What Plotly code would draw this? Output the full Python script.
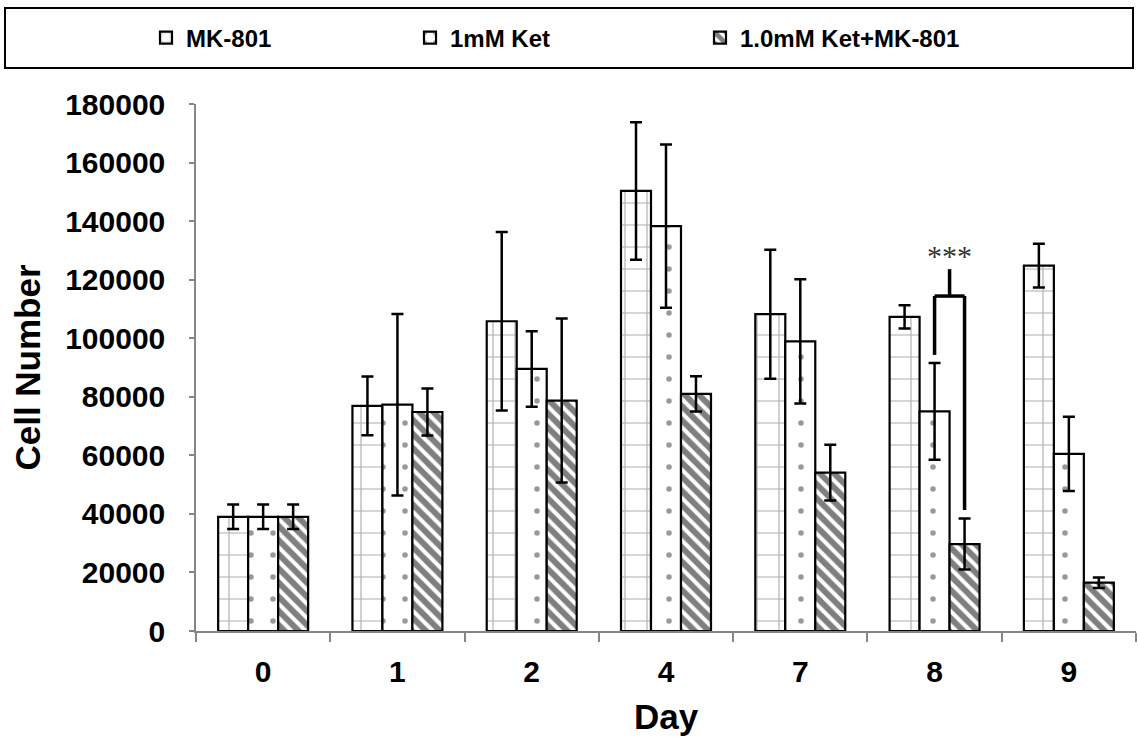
import plotly.graph_objects as go

# ---- data ----
days = ["0", "1", "2", "4", "7", "8", "9"]
mk801 = [39000, 76900, 105800, 150300, 108200, 107300, 124800]
mk801_err = [4200, 10000, 30500, 23500, 22000, 4000, 7500]
ket1mm = [39000, 77300, 89500, 138300, 98900, 75000, 60500]
ket1mm_err = [4200, 31000, 12900, 27900, 21200, 16500, 12700]
combo = [39000, 74800, 78700, 81000, 54100, 29700, 16500]
combo_err = [4200, 8000, 28000, 6000, 9500, 8700, 1800]
series_names = ["MK-801", "1mM Ket", "1.0mM Ket+MK-801"]
y_ticks = [0, 20000, 40000, 60000, 80000, 100000, 120000, 140000, 160000, 180000]

# significance bracket (Day 8: 1mM Ket vs 1.0mM Ket+MK-801)
sig_day_index = 5
sig_stem_top = 123600
sig_bar_level = 114400
sig_left_bottom = 94300
sig_right_bottom = 41300
sig_text_y = 128400

# ---- layout constants ----
W, H = 1138, 737
ML, MR, MT, MB = 196, 2, 104, 106
BARGAP = 0.33
FONT = "Liberation Sans, Arial, sans-serif"
AXIS_GRAY = "#868686"

fig = go.Figure()

patterns = [
    dict(shape="+", size=22, solidity=0.1, fgcolor="#5a5a5a", bgcolor="white"),
    dict(shape=".", size=22, solidity=0.05, fgcolor="#333333", bgcolor="white"),
    dict(shape="\\", size=10, solidity=0.6, fgcolor="black", bgcolor="white"),
]
values = [mk801, ket1mm, combo]
errors = [mk801_err, ket1mm_err, combo_err]
legend_ids = ["legend", "legend2", "legend3"]

for name, vals, errs, pat, lg in zip(series_names, values, errors, patterns, legend_ids):
    fig.add_trace(go.Bar(
        x=days, y=vals, name=name, legend=lg,
        marker=dict(color="white", line=dict(color="black", width=2.2), pattern=pat),
        error_y=dict(type="data", array=errs, visible=True, color="black",
                     thickness=2.5, width=6),
    ))

# bracket geometry from bar layout
bar_w = (1 - BARGAP) / 3
x_left = sig_day_index + 0.0
x_right = sig_day_index + bar_w
x_mid = (x_left + x_right) / 2
line_style = dict(color="black", width=3.5)
for (x0, y0, x1, y1) in [
    (x_left, sig_left_bottom, x_left, sig_bar_level),
    (x_left, sig_bar_level, x_right, sig_bar_level),
    (x_right, sig_bar_level, x_right, sig_right_bottom),
    (x_mid, sig_bar_level, x_mid, sig_stem_top),
]:
    fig.add_shape(type="line", xref="x", yref="y", x0=x0, y0=y0, x1=x1, y1=y1,
                  line=line_style)

fig.add_annotation(x=x_mid, y=sig_text_y, xref="x", yref="y", text="***",
                   showarrow=False,
                   font=dict(family="Liberation Serif, Times New Roman, serif",
                             size=30, color="#333333"))

# legend box (paper coordinates computed from pixel layout)
pw = W - ML - MR
ph = H - MT - MB
def px_to_paper_x(px):
    return (px - ML) / pw
def px_to_paper_y(py):
    return (H - MB - py) / ph
fig.add_shape(type="rect", xref="paper", yref="paper",
              x0=px_to_paper_x(5), x1=px_to_paper_x(1133),
              y0=px_to_paper_y(68), y1=px_to_paper_y(8),
              line=dict(color="black", width=2), fillcolor="rgba(0,0,0,0)")

legend_font = dict(family=FONT, size=24, color="black", weight="bold")
legend_x_px = [146, 410, 700]
legend_y = 1 - 38 / H
common_legend = dict(xref="container", yref="container", xanchor="left",
                     yanchor="middle", y=legend_y, orientation="h",
                     font=legend_font, bgcolor="rgba(0,0,0,0)", borderwidth=0)

fig.update_layout(
    width=W, height=H,
    margin=dict(l=ML, r=MR, t=MT, b=MB, pad=0),
    paper_bgcolor="white", plot_bgcolor="white",
    barmode="group", bargap=BARGAP, bargroupgap=0,
    showlegend=True,
    legend=dict(x=legend_x_px[0] / W, **common_legend),
    legend2=dict(x=legend_x_px[1] / W, **common_legend),
    legend3=dict(x=legend_x_px[2] / W, **common_legend),
    font=dict(family=FONT, color="black"),
    xaxis=dict(
        type="category", showline=True, linecolor=AXIS_GRAY, linewidth=1.5,
        ticks="outside", tickson="boundaries", ticklen=9, tickcolor=AXIS_GRAY,
        tickwidth=1.5, showgrid=False, zeroline=False,
        tickfont=dict(family=FONT, size=30, color="black", weight="bold"),
        ticklabelstandoff=13,
        title=dict(text="Day", standoff=18,
                   font=dict(family=FONT, size=35, color="black", weight="bold")),
    ),
    yaxis=dict(
        range=[0, 180000], tickvals=y_ticks, ticktext=[str(v) for v in y_ticks],
        showline=True, linecolor=AXIS_GRAY, linewidth=1.5,
        ticks="outside", ticklen=5, tickcolor=AXIS_GRAY, tickwidth=1.5,
        showgrid=False, zeroline=False,
        tickfont=dict(family=FONT, size=30, color="black", weight="bold"),
        ticklabelstandoff=18,
        title=dict(text="Cell Number", standoff=14,
                   font=dict(family=FONT, size=35, color="black", weight="bold")),
    ),
)

fig.write_html("out.html")
